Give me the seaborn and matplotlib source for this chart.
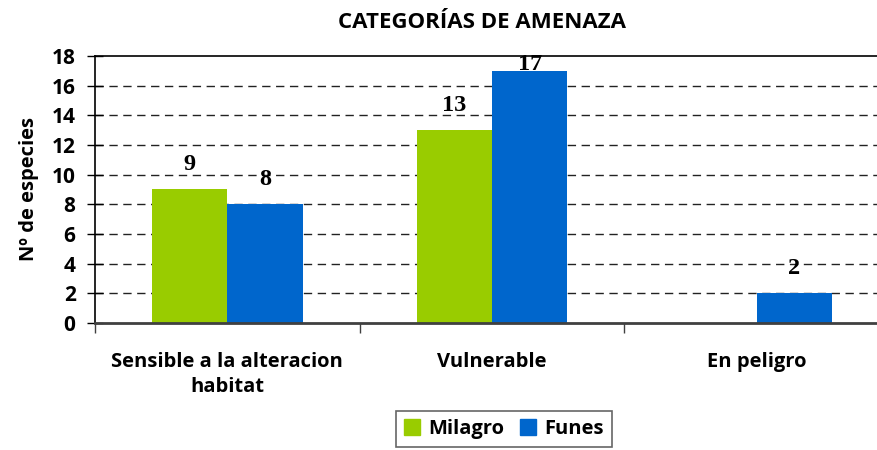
import pandas as pd
import matplotlib
matplotlib.use("Agg")
import matplotlib.pyplot as plt
import seaborn as sns

# Datos
categorias = ["Sensible a la alteracion\nhabitat", "Vulnerable", "En peligro"]
series = ["Milagro", "Funes"]
milagro = [9, 13, 0]
funes = [8, 17, 2]
y_ticks = [0, 2, 4, 6, 8, 10, 12, 14, 16, 18]

colores = {"Milagro": "#99CC00", "Funes": "#0066CC"}

sns.set_theme(style="white")
plt.rcParams["font.family"] = ["Open Sans", "DejaVu Sans"]
plt.rcParams["font.weight"] = "bold"
plt.rcParams["text.color"] = "black"
plt.rcParams["axes.labelcolor"] = "black"
plt.rcParams["xtick.color"] = "black"
plt.rcParams["ytick.color"] = "black"

df = pd.DataFrame({
    "categoria": categorias * 2,
    "serie": [series[0]] * 3 + [series[1]] * 3,
    "valor": milagro + funes,
})

fig = plt.figure(figsize=(8.77, 4.5), dpi=100)
ax = fig.add_axes([95 / 877, 1 - 323 / 450, (889 - 95) / 877, (323 - 56) / 450])

sns.barplot(
    data=df, x="categoria", y="valor", hue="serie",
    palette=colores, width=0.57, linewidth=0, saturation=1,
    ax=ax, legend=False,
)

ax.set_ylim(0, 18)
ax.set_xlim(-0.5, 2.5)
ax.set_yticks(y_ticks)
ax.set_yticklabels([str(t) for t in y_ticks], fontsize=15, fontweight="bold")

# lineas de division dashed
for t in y_ticks[1:-1]:
    ax.axhline(t, color="#222222", lw=1, ls=(0, (6, 4)), zorder=0)
ax.set_axisbelow(True)

# etiquetas de valor
for patch in ax.patches:
    h = patch.get_height()
    if h is None or h <= 0:
        continue
    x = patch.get_x() + patch.get_width() / 2
    ax.text(x, min(h + 0.95, 16.75), f"{h:.0f}", ha="center", va="bottom",
            fontsize=17.5, fontweight="bold", family="Liberation Serif", color="black")

# ejes
for s in ["left", "top"]:
    ax.spines[s].set_color("black")
    ax.spines[s].set_linewidth(1.2)
ax.spines["right"].set_visible(False)
ax.spines["bottom"].set_color("#404040")
ax.spines["bottom"].set_linewidth(2)

ax.tick_params(axis="y", which="major", direction="inout", length=12, width=1,
               color="black", pad=8, left=True)
ax.set_xticks([0, 1, 2])
ax.set_xticklabels(categorias, fontsize=14.5, fontweight="bold", linespacing=1.3)
ax.tick_params(axis="x", which="major", length=0, pad=21)
ax.set_xticks([-0.5, 0.5, 1.5], minor=True)
ax.tick_params(axis="x", which="minor", direction="out", length=7, width=1,
               color="#404040", bottom=True)

ax.set_xlabel("")
ax.set_ylabel("Nº de especies", fontsize=14.5, fontweight="bold", labelpad=9)

fig.text(482 / 877, 1 - 22 / 450, "CATEGORÍAS DE AMENAZA", ha="center", va="center",
         fontsize=16, fontweight="bold")

handles = [plt.Rectangle((0, 0), 1, 1, color=colores[s]) for s in series]
leg = fig.legend(handles, series, loc="upper center",
                 bbox_to_anchor=(504 / 877, 1 - 411 / 450), ncol=2,
                 fontsize=14.5, frameon=True, fancybox=False, edgecolor="#404040",
                 handlelength=0.8, handleheight=0.8, handletextpad=0.4,
                 columnspacing=0.8, borderpad=0.4, borderaxespad=0)
leg.get_frame().set_linewidth(1.2)
for t in leg.get_texts():
    t.set_fontweight("bold")

fig.savefig("out.png", dpi=100)
